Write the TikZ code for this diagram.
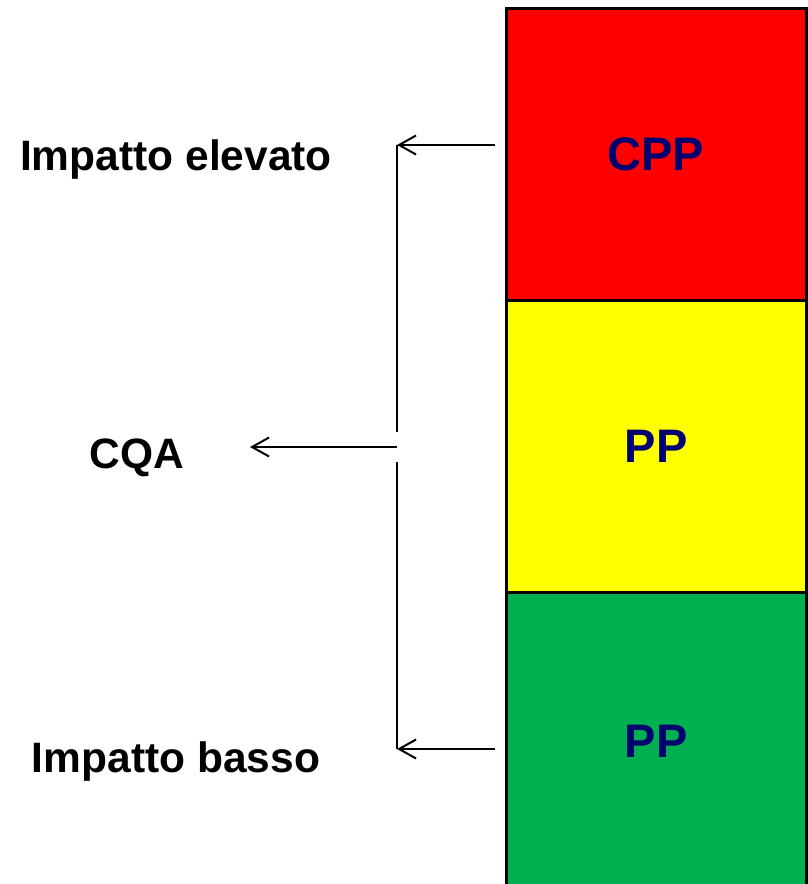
\documentclass[tikz,border=0pt]{standalone}
\usepackage{fontspec}
\setmainfont{Liberation Sans}
\usepackage{xcolor}
\usetikzlibrary{positioning, arrows.meta}
\definecolor{cppred}{RGB}{255, 0, 0}
\definecolor{ppyellow}{RGB}{255, 255, 0}
\definecolor{ppgreen}{RGB}{0, 176, 80}
\definecolor{tagnavy}{RGB}{0, 0, 110}
\tikzset{
    riskbox/.style={draw=black, line width=3pt, outer sep=0pt, inner sep=0pt, minimum width=300pt, minimum height=292pt, font=\fontsize{47}{56}\selectfont\bfseries, text=tagnavy},
    sidelabel/.style={inner sep=0pt, anchor=base, font=\fontsize{42.5}{50}\selectfont\bfseries},
    wire/.style={line width=2pt},
    link/.style={wire, -{Straight Barb[length=17pt, width=19pt, line width=2pt]}}
}

\begin{document}
\begin{tikzpicture}[x=1pt, y=-1pt]
                    \useasboundingbox (0,0) rectangle (808,884);
                    % the three stacked boxes, the last one runs off the page
                    \node[riskbox, fill=cppred, anchor=north west] (cpp) at (506,8) {CPP};
                    \node[riskbox, fill=ppyellow, below=0pt of cpp] (ppmid) {PP};
                    \node[riskbox, fill=ppgreen, below=0pt of ppmid, minimum height=298pt] (pplow) {PP};

                    % labels on the left
                    \node[sidelabel] (high) at (176,170) {Impatto elevato};
                    \node[sidelabel] (cqa) at (137,468) {CQA};
                    \node[sidelabel] (low) at (176,772) {Impatto basso};

                    % ends of the connectors
                    \coordinate (hitap) at (495,145);
                    \coordinate (hibend) at (397,145);
                    \coordinate (lotap) at (495,749);
                    \coordinate (lobend) at (397,749);
                    \coordinate (gaptop) at (397,432);
                    \coordinate (gapbot) at (397,462);
                    \coordinate (midtap) at (397,447);
                    \coordinate (cqatip) at (250,447);

                    \draw[link] (hitap) -- (hibend);
                    \draw[link] (lotap) -- (lobend);
                    \draw[wire] (hibend) -- (gaptop);
                    \draw[wire] (gapbot) -- (lobend);
                    \draw[link] (midtap) -- (cqatip);
                \end{tikzpicture}
\end{document}
